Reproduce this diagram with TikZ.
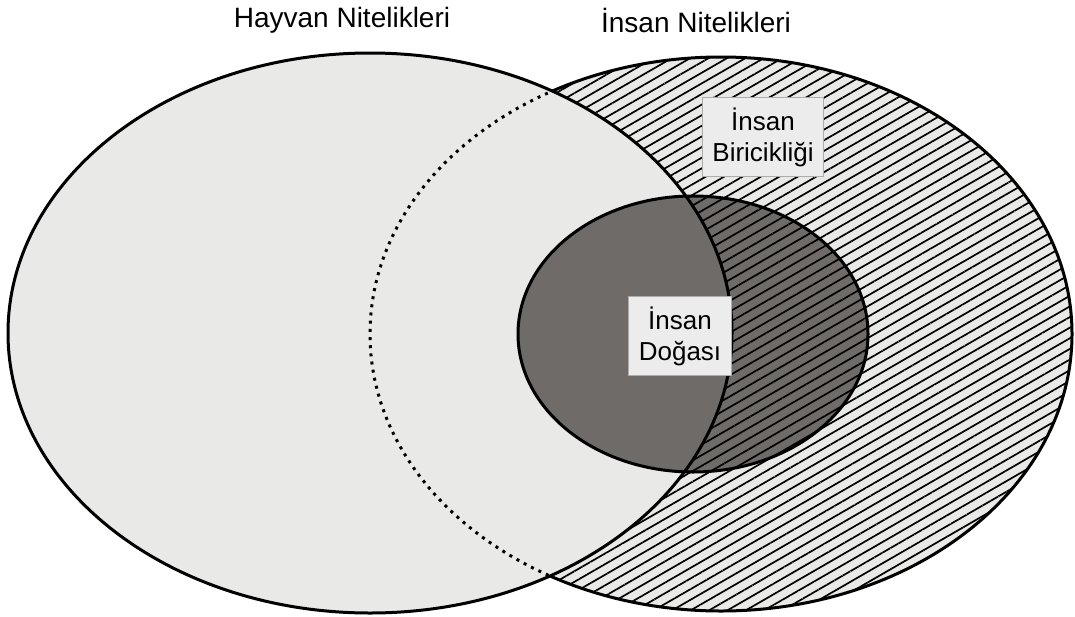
\documentclass[tikz,border=0pt]{standalone}
\usepackage{fontspec}
\setmainfont{Liberation Sans}
\usetikzlibrary{patterns.meta}

\definecolor{lightfill}{RGB}{233,233,231}
\definecolor{darkfill}{RGB}{110,107,104}
\definecolor{boxfill}{RGB}{236,236,236}

% the three regions
\def\animaloval{(370,333) ellipse [x radius=362, y radius=280]}
\def\humanoval{(721,334) ellipse [x radius=351, y radius=277]}
\def\natureoval{(693,334) ellipse [x radius=175, y radius=138]}

\begin{document}
\begin{tikzpicture}[x=0.5pt,y=-0.5pt,
    outline/.style={line width=1.5pt},
    hatch/.style={pattern={Lines[angle=30,distance=4.6pt,line width=0.85pt]}},
    dotline/.style={line width=1.5pt,dash pattern=on 1.5pt off 2.6pt},
    label/.style={font=\fontsize{14}{16}\selectfont},
    infobox/.style={draw=gray!65,fill=boxfill,align=center,inner xsep=5pt,inner ysep=5pt,
                    font=\fontsize{13}{15.5}\selectfont}]

\useasboundingbox (0,0) rectangle (1075,616);

% human oval, hatched
\fill[lightfill] \humanoval;
\fill[hatch] \humanoval;
\fill[darkfill] \natureoval;
\fill[hatch] \natureoval;
\draw[outline] \humanoval;

% animal oval on top
\fill[lightfill] \animaloval;
\begin{scope}
  \clip \animaloval;
  \fill[darkfill] \natureoval;
  \draw[dotline] \humanoval;
\end{scope}
\draw[outline] \animaloval;
\draw[outline] \natureoval;

\node[label] (animal) at (342,20) {Hayvan Nitelikleri};
\node[label] (human) at (696,20) {İnsan Nitelikleri};

\node[infobox] (unique) at (763,137) {İnsan\\Biricikliği};
\node[infobox] (nature) at (680,336) {İnsan\\Doğası};
\end{tikzpicture}
\end{document}
